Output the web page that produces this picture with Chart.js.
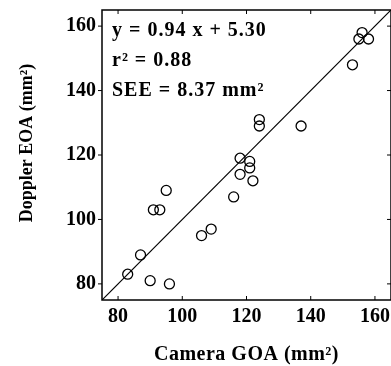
<!DOCTYPE html>
<html>
<head>
<meta charset="utf-8">
<script src="https://cdn.jsdelivr.net/npm/chart.js@4"></script>
<style>
  body { margin: 0; background: #fff; }
  #wrap { width: 391px; height: 366px; }
</style>
</head>
<body>
<div id="wrap"><canvas id="goaChart"></canvas></div>
<script>
// Camera GOA (x) vs Doppler EOA (y), mm^2
const cameraGOA = [83, 87, 90, 96, 91, 93, 95, 106, 109, 116, 118, 118, 121, 121, 122, 124, 124, 137, 153, 155, 156, 158];
const dopplerEOA = [83, 89, 81, 80, 103, 103, 109, 95, 97, 107, 119, 114, 118, 116, 112, 131, 129, 129, 148, 156, 158, 156];
const identityLine = [75, 165];
const tickValues = [80, 100, 120, 140, 160];
const statLines = ["y = 0.94 x + 5.30", "r\u00B2 = 0.88", "SEE = 8.37 mm\u00B2"];

// frame, ticks, axis titles and the regression text
const extras = {
  id: "extras",
  afterDraw(chart) {
    const ctx = chart.ctx;
    const a = chart.chartArea;
    const xs = chart.scales.x;
    const ys = chart.scales.y;
    ctx.save();
    ctx.strokeStyle = "#000";
    ctx.lineWidth = 1.5;
    ctx.strokeRect(a.left, a.top, a.right - a.left, a.bottom - a.top);

    ctx.lineWidth = 1;
    tickValues.forEach(function (v) {
      const px = xs.getPixelForValue(v);
      ctx.beginPath();
      ctx.moveTo(px, a.bottom); ctx.lineTo(px, a.bottom - 4);
      ctx.moveTo(px, a.top); ctx.lineTo(px, a.top + 4);
      const py = ys.getPixelForValue(v);
      ctx.moveTo(a.left, py); ctx.lineTo(a.left - 4, py);
      ctx.moveTo(a.right, py); ctx.lineTo(a.right - 4, py);
      ctx.stroke();
    });

    ctx.fillStyle = "#000";
    ctx.font = "bold 20px 'Liberation Serif'";
    ctx.letterSpacing = "1px";
    ctx.textAlign = "left";
    ctx.textBaseline = "alphabetic";
    statLines.forEach(function (t, i) {
      ctx.fillText(t, a.left + 10, a.top + 26 + i * 30);
    });

    ctx.letterSpacing = "0.5px";
    ctx.textAlign = "center";
    ctx.fillText("Camera GOA (mm\u00B2)", (a.left + a.right) / 2, 360);
    ctx.font = "bold 18px 'Liberation Serif'";
    ctx.letterSpacing = "0px";
    ctx.translate(32, 143);
    ctx.rotate(-Math.PI / 2);
    ctx.fillText("Doppler EOA (mm\u00B2)", 0, 0);
    ctx.restore();
  }
};

const points = cameraGOA.map(function (x, i) { return { x: x, y: dopplerEOA[i] }; });

new Chart(document.getElementById("goaChart"), {
  type: "scatter",
  data: {
    datasets: [
      {
        label: "Data",
        data: points,
        pointStyle: "circle",
        pointRadius: 5,
        pointBorderWidth: 1.3,
        borderColor: "#000",
        backgroundColor: "transparent",
      },
      {
        type: "line",
        label: "Identity",
        data: identityLine.map(function (v) { return { x: v, y: v }; }),
        borderColor: "#000",
        borderWidth: 1.2,
        pointRadius: 0,
        fill: false,
      },
    ],
  },
  options: {
    responsive: true,
    maintainAspectRatio: false,
    animation: false,
    layout: { autoPadding: false, padding: { top: 10, right: 0, bottom: 0, left: 0 } },
    plugins: {
      legend: { display: false },
      tooltip: { enabled: false },
    },
    scales: {
      x: {
        type: "linear",
        min: 75,
        max: 165,
        afterBuildTicks: function (s) { s.ticks = tickValues.map(function (v) { return { value: v }; }); },
        afterFit: function (s) { s.height = 66; s.paddingLeft = 0; s.paddingRight = 0; },
        grid: { display: false, drawTicks: false },
        border: { display: false },
        ticks: { color: "#000", padding: 5, font: { family: "Liberation Serif", size: 20, weight: "bold" } },
      },
      y: {
        type: "linear",
        min: 75,
        max: 165,
        afterBuildTicks: function (s) { s.ticks = tickValues.map(function (v) { return { value: v }; }); },
        afterFit: function (s) { s.width = 102; s.paddingTop = 0; s.paddingBottom = 0; },
        grid: { display: false, drawTicks: false },
        border: { display: false },
        ticks: { color: "#000", padding: 6, font: { family: "Liberation Serif", size: 20, weight: "bold" } },
      },
    },
  },
  plugins: [extras],
});
</script>
</body>
</html>
